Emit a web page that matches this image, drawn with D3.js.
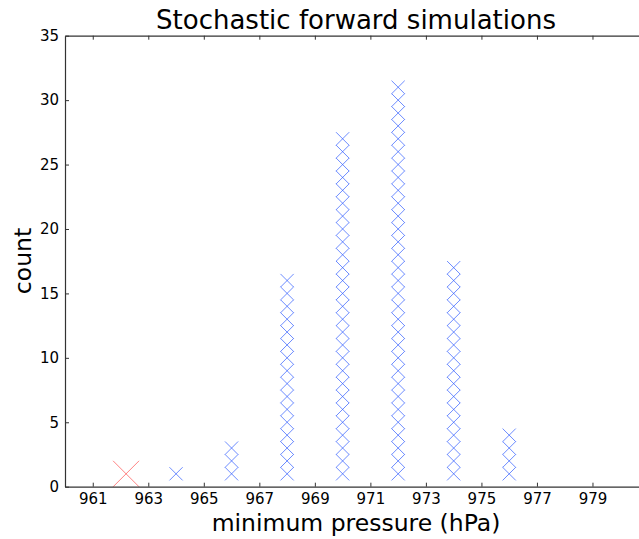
<!DOCTYPE html>
<html><head><meta charset="utf-8">
<script src="https://d3js.org/d3.v7.min.js"></script>
<style>body{margin:0;background:#fff;} svg{display:block;font-family:"DejaVu Sans",sans-serif;}</style>
</head><body>
<script>
const pressures = [964, 966, 968, 970, 972, 974, 976];
const counts = [1, 3, 16, 27, 31, 17, 4];
const observedPressure = [962.2];
const observedCount = [1];
const xTicks = [961, 963, 965, 967, 969, 971, 973, 975, 977, 979];
const yTicks = [0, 5, 10, 15, 20, 25, 30, 35];

const W = 639, H = 539;
const svg = d3.select("body").append("svg").attr("width", W).attr("height", H);
const x = d3.scaleLinear().domain([960, 981]).range([65, 648]);
const y = d3.scaleLinear().domain([0, 35]).range([486.7, 35.7]);

// markers
const pts = [];
pressures.forEach((p, i) => { for (let k = 1; k <= counts[i]; k++) pts.push([p, k]); });
const s = 6.6;
const g = svg.append("g");
pts.forEach(([p, k]) => {
  const cx = x(p), cy = y(k);
  g.append("path").attr("d", `M${cx-s},${cy-s}L${cx+s},${cy+s}M${cx-s},${cy+s}L${cx+s},${cy-s}`)
    .attr("stroke", "#2f5bff").attr("stroke-opacity", 0.7).attr("stroke-width", 1).attr("fill", "none");
});
observedPressure.forEach((p, i) => {
  const cx = x(p), cy = y(observedCount[i]), r = 13;
  g.append("path").attr("d", `M${cx-r},${cy-r}L${cx+r},${cy+r}M${cx-r},${cy+r}L${cx+r},${cy-r}`)
    .attr("stroke", "#ff3030").attr("stroke-opacity", 0.6).attr("stroke-width", 1).attr("fill", "none");
});

// axes
const axisColor = "#333";
const xb = svg.append("g").attr("transform", `translate(0,${y(0)})`)
  .call(d3.axisBottom(x).tickValues(xTicks).tickFormat(d3.format("d")).tickSizeInner(-4).tickSizeOuter(0).tickPadding(7));
const xt = svg.append("g").attr("transform", `translate(0,${y(35)})`)
  .call(d3.axisTop(x).tickValues(xTicks).tickFormat("").tickSizeInner(-4).tickSizeOuter(0));
const yl = svg.append("g").attr("transform", `translate(${x(960)},0)`)
  .call(d3.axisLeft(y).tickValues(yTicks).tickFormat(d3.format("d")).tickSizeInner(-4).tickSizeOuter(0).tickPadding(6));
[xb, xt, yl].forEach(a => {
  a.select(".domain").attr("stroke", axisColor).attr("stroke-width", 1.2);
  a.selectAll(".tick line").attr("stroke", axisColor);
  a.selectAll(".tick text").attr("font-size", 15).attr("fill", "#000").attr("font-family", "DejaVu Sans");
});

svg.append("text").attr("x", 356).attr("y", 29).attr("text-anchor", "middle")
  .attr("font-size", 26).text("Stochastic forward simulations");
svg.append("text").attr("x", 356).attr("y", 531).attr("text-anchor", "middle")
  .attr("font-size", 23.5).text("minimum pressure (hPa)");
svg.append("text").attr("transform", "translate(31,261) rotate(-90)").attr("text-anchor", "middle")
  .attr("font-size", 23.5).text("count");
</script>
</body></html>
